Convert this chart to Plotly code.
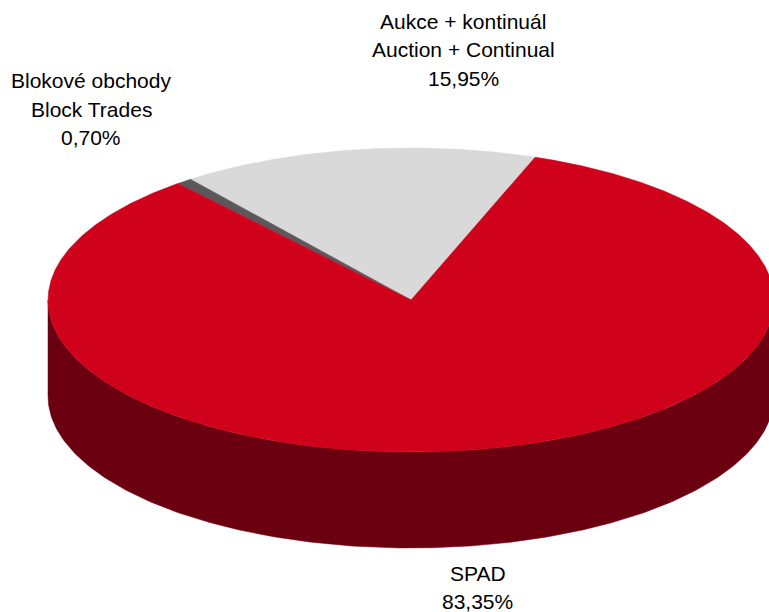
import numpy as np
import plotly.graph_objects as go

# ---- data ----
labels_cz = ["Aukce + kontinuál", "Blokové obchody", "SPAD"]
labels_en = ["Auction + Continual", "Block Trades", ""]
values = [15.95, 0.70, 83.35]
value_text = ["15,95%", "0,70%", "83,35%"]
top_colors = ["#D9D9D9", "#595959", "#D0011B"]
side_colors = ["#9A9A9A", "#3A3A3A", "#6A0010"]

# ---- geometry (pixel space of the browser window) ----
W, H = 769, 612
cx, cy = 411, 300
rx, ry = 363, 152
depth = 96
start_deg = 70.0

def rim(t_deg, dy=0.0):
    t = np.radians(t_deg)
    return cx + rx * np.cos(t), cy - ry * np.sin(t) + dy

total = sum(values)
bounds = []
a = start_deg
for v in values:
    span = 360.0 * v / total
    bounds.append((a, a + span))
    a += span

fig = go.Figure()

# side walls (front half only: 180..360 deg)
for (a0, a1), col in zip(bounds, side_colors):
    for k in (0, 1):
        lo = max(a0, 180 + 360 * k)
        hi = min(a1, 360 + 360 * k)
        if hi <= lo:
            continue
        t = np.linspace(lo, hi, 240)
        xt, yt = rim(t)
        xb, yb = rim(t[::-1], depth)
        fig.add_trace(go.Scatter(
            x=np.concatenate([xt, xb, xt[:1]]),
            y=np.concatenate([yt, yb, yt[:1]]),
            mode="lines", fill="toself", fillcolor=col,
            line=dict(width=0.5, color=col), hoverinfo="skip", showlegend=False))

# top faces
for (a0, a1), col in zip(bounds, top_colors):
    n = max(4, int((a1 - a0) * 3))
    t = np.linspace(a0, a1, n)
    xt, yt = rim(t)
    fig.add_trace(go.Scatter(
        x=np.concatenate([[cx], xt, [cx]]),
        y=np.concatenate([[cy], yt, [cy]]),
        mode="lines", fill="toself", fillcolor=col,
        line=dict(width=0.5, color=col), hoverinfo="skip", showlegend=False))

# labels
font = dict(family="Liberation Sans, Arial, sans-serif", size=21, color="#000000")
label_pos = [(463, 21), (91, 80.5), (477.5, 573.5)]
for i, (lx, ly) in enumerate(label_pos):
    lines = [labels_cz[i]] + ([labels_en[i]] if labels_en[i] else []) + [value_text[i]]
    for j, s in enumerate(lines):
        fig.add_annotation(x=lx, y=ly + 27.5 * j if i == 2 else ly + 28.6 * j,
                           text=s, showarrow=False, borderpad=0,
                           xanchor="center", yanchor="middle", font=font)

fig.update_layout(
    width=W, height=H, margin=dict(l=0, r=0, t=0, b=0),
    paper_bgcolor="white", plot_bgcolor="white",
    xaxis=dict(range=[0, W], visible=False, fixedrange=True),
    yaxis=dict(range=[H, 0], visible=False, fixedrange=True),
    showlegend=False,
)
fig.write_html(
    "out.html",
    config={"displayModeBar": False},
    post_script="document.body.style.margin='0';document.body.style.overflow='hidden';",
)
